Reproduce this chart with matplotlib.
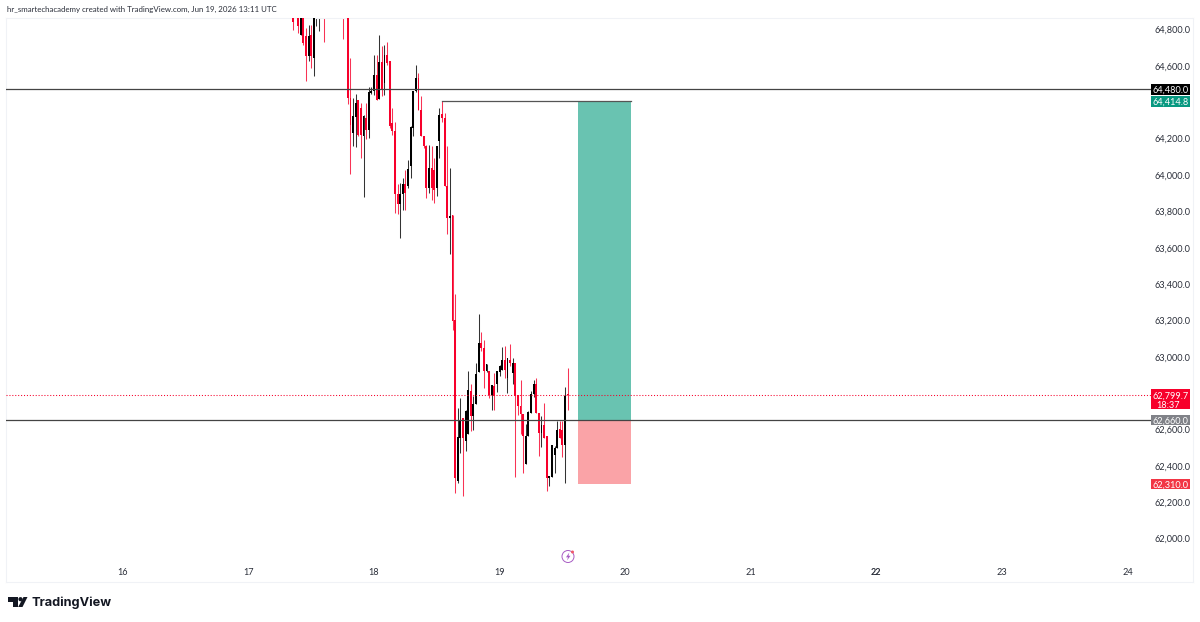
import numpy as np
import matplotlib
matplotlib.use('Agg')
import matplotlib.pyplot as plt
from matplotlib.patches import Rectangle, Circle, Polygon
from matplotlib.transforms import ScaledTranslation

# --- CONFIGURATION ---
OUTPUT_FILE = 'out.png'
UP_COLOR = '#000000'
DOWN_COLOR = '#f7002b'
TP_COLOR = '#69c3b1'
SL_COLOR = '#faa3a7'
TEXT_COLOR = '#2a2e39'
FONT = 'Lato'

# --- 30 MIN CANDLES, FIRST BAR AT DAY 17 08:30 ---
first_bar_day = 17 + 17 / 48
bar_days = 1 / 48

opens = [64920, 65000, 64900, 64782, 64900, 64772, 64662, 64782, 64653, 64920, 64900, 64980, 65000,
         65020, 65000, 65040, 65010, 65030, 64990, 65000, 65040, 65050, 64433, 64241, 64329, 64424,
         64378, 64222, 64323, 64259, 64461, 64474, 64558, 64428, 64630, 64516, 64672, 64639, 64296,
         64254, 63905, 63847, 63902, 63960, 63948, 64057, 64268, 64474, 64543, 64369, 64222, 64167,
         63938, 64045, 64039, 63938, 64195, 64345, 64323, 63947, 63773, 63788, 63214, 62325, 62563,
         62673, 62545, 62582, 62820, 62683, 62747, 62926, 63086, 63058, 62930, 62930, 62798, 62848,
         62860, 62926, 62935, 62989, 62893, 62994, 62921, 62976, 62798, 62738, 62692, 62417, 62572,
         62701, 62802, 62860, 62701, 62591, 62633, 62572, 62343, 62349, 62468, 62508, 62613, 62609,
         62521, 62802]
highs = [64950, 65050, 64950, 64950, 64950, 64818, 64837, 64837, 64950, 65000, 65000, 65050, 65050,
         65080, 65060, 65100, 65070, 65090, 65040, 65050, 65100, 65100, 64653, 64433, 64455, 64424,
         64406, 64342, 64406, 64492, 64492, 64672, 64668, 64778, 64717, 64727, 64741, 64639, 64378,
         64300, 63957, 63966, 63993, 64039, 64094, 64277, 64474, 64617, 64571, 64446, 64222, 64172,
         64177, 64167, 64103, 64167, 64378, 64414, 64351, 64167, 64045, 63788, 63352, 62728, 62783,
         62673, 62714, 62930, 62860, 62792, 62976, 63245, 63146, 63104, 62967, 62930, 62853, 62921,
         62930, 62966, 63062, 63067, 63003, 63082, 63000, 62976, 62798, 62884, 62695, 62637, 62710,
         62820, 62879, 62890, 62701, 62686, 62756, 62572, 62353, 62523, 62518, 62655, 62655, 62655,
         62842, 62948]
lows = [64809, 64900, 64791, 64780, 64727, 64529, 64635, 64598, 64552, 64827, 64800, 64900, 64741,
        64900, 64920, 64980, 64950, 64960, 64900, 64760, 64900, 64400, 64012, 64167, 64162, 64222,
        64103, 63887, 64210, 64213, 64455, 64452, 64424, 64428, 64442, 64452, 64617, 64268, 64232,
        63801, 63795, 63663, 63819, 63814, 63938, 63993, 64222, 64466, 64369, 64222, 64160, 63883,
        63911, 63874, 63856, 63892, 64103, 64300, 63947, 63682, 63572, 63159, 62261, 62316, 62481,
        62243, 62490, 62582, 62600, 62609, 62747, 62926, 63040, 62835, 62925, 62780, 62714, 62714,
        62816, 62902, 62935, 62893, 62811, 62960, 62860, 62349, 62690, 62582, 62371, 62417, 62572,
        62701, 62790, 62701, 62462, 62514, 62560, 62270, 62298, 62349, 62371, 62508, 62563, 62457,
        62316, 62719]
closes = [64850, 64950, 64830, 64900, 64736, 64662, 64772, 64662, 64900, 64960, 64960, 65020, 64920,
          65000, 65040, 65010, 65030, 64990, 65020, 64900, 65000, 64433, 64283, 64332, 64406, 64232,
          64228, 64332, 64259, 64466, 64474, 64558, 64424, 64630, 64479, 64672, 64626, 64277, 64250,
          63905, 63847, 63905, 63960, 63911, 64043, 64272, 64470, 64543, 64369, 64222, 64167, 63938,
          64045, 63938, 63929, 64167, 64342, 64323, 63947, 63773, 63783, 63205, 62343, 62567, 62659,
          62563, 62710, 62824, 62683, 62750, 62915, 63086, 63058, 62930, 62967, 62798, 62853, 62793,
          62930, 62957, 62989, 62939, 63003, 62976, 62976, 62793, 62738, 62692, 62572, 62572, 62706,
          62802, 62860, 62701, 62591, 62633, 62560, 62343, 62353, 62523, 62505, 62609, 62563, 62521,
          62796, 62799.7]

# --- PRICE LEVELS ---
upper_level = 64480.0
entry_level = 62660.0
target_level = 64414.8
stop_level = 62310.0
last_price = 62799.7
countdown = '18:37'
trade_line_start = 18 + 26 / 48
box_start = 19.624
box_end = 20.046

price_ticks = [62000, 62200, 62400, 62600, 63000, 63200, 63400, 63600, 63800,
               64000, 64200, 64600, 64800]
day_ticks = [16, 17, 18, 19, 20, 21, 22, 23, 24]


def draw_candles(ax):
    o, h, l, c = map(np.array, (opens, highs, lows, closes))
    x = first_bar_day + np.arange(len(o)) * bar_days
    colors = [UP_COLOR if up else DOWN_COLOR for up in c >= o]
    ax.vlines(x, l, h, colors=colors, linewidth=0.75, alpha=0.8, zorder=2)
    ax.bar(x, np.maximum(np.abs(c - o), 4), bottom=np.minimum(o, c), width=bar_days * 0.72,
           color=colors, linewidth=0, zorder=3)


def price_badge(ax, price, text, color, px_height=10.5):
    # badge sits on the price scale, x in axes fraction and y in price
    trans = ax.get_yaxis_transform()
    height = px_height * 5.5
    ax.add_patch(Rectangle((0.9646, price - height / 2), 0.0329, height, transform=trans,
                           facecolor=color, edgecolor='none', zorder=6, clip_on=False))
    ax.text(0.9812, price, text, transform=trans, ha='center', va='center_baseline',
            color='white', fontsize=6.6, family=FONT, zorder=7)


def draw_overlay(fig):
    # everything outside the price pane is laid out in pixels
    over = fig.add_axes([0, 0, 1, 1], facecolor='none')
    over.set_xlim(0, 1200)
    over.set_ylim(622, 0)
    over.axis('off')

    over.text(7, 9, 'hr_smartechacademy created with TradingView.com, Jun 19, 2026 13:11 UTC',
              ha='left', va='center', fontsize=5.68, color=TEXT_COLOR, family=FONT)

    # logo
    over.add_patch(Polygon([(8, 597), (17.5, 597), (17.5, 607), (13, 607), (13, 601.5), (8, 601.5)],
                           facecolor='#131722', edgecolor='none'))
    over.add_patch(Circle((20.5, 599.2), 2.1, facecolor='#131722', edgecolor='none'))
    over.add_patch(Polygon([(23.5, 597), (27.5, 597), (22.5, 607), (18.2, 607)],
                           facecolor='#131722', edgecolor='none'))
    over.text(32, 602.5, 'TradingView', ha='left', va='center', fontsize=9.2,
              color='#131722', family='Inter', fontweight='bold')

    # flash event marker under the bars
    over.add_patch(Circle((568, 556.5), 6, facecolor='white', edgecolor='#a85cc4', linewidth=0.7))
    over.add_patch(Polygon([(569.3, 552.5), (566, 557.3), (568, 557.3), (567, 560.5), (570.5, 555.8), (568.5, 555.8)],
                           facecolor='#a85cc4', edgecolor='none'))
    over.add_patch(Circle((572.5, 552), 1.5, facecolor='#ef5a6a', edgecolor='none'))


def main():
    fig = plt.figure(figsize=(12, 6.22), dpi=100, facecolor='white')
    ax = fig.add_axes([6 / 1200, 1 - 582 / 622, 1187 / 1200, 564 / 622])
    ax.set_xlim(15.07, 15.07 + 1187 / 125.6)
    ax.set_ylim(61770, 64873)

    for spine in ax.spines.values():
        spine.set_color('#f0f2f6')
        spine.set_linewidth(0.8)

    ax.set_xticks(day_ticks)
    ax.set_yticks(price_ticks)
    ax.set_yticklabels([f'{p:,.1f}' for p in price_ticks])
    ax.yaxis.tick_right()
    ax.tick_params(axis='y', length=0, pad=-28, labelsize=6.6, labelcolor=TEXT_COLOR)
    ax.tick_params(axis='x', length=0, pad=-10, labelsize=6.6, labelcolor=TEXT_COLOR)
    for label in ax.get_xticklabels():
        label.set_family(FONT)
    # price labels sit a touch above their level
    nudge = ScaledTranslation(0, 1.2 / 72, fig.dpi_scale_trans)
    for label in ax.get_yticklabels():
        label.set_family(FONT)
        label.set_transform(label.get_transform() + nudge)
    ax.get_xticklabels()[day_ticks.index(22)].set_fontweight('bold')

    # trade box
    ax.add_patch(Rectangle((box_start, entry_level), box_end - box_start, target_level - entry_level,
                           facecolor=TP_COLOR, edgecolor='none', zorder=1))
    ax.add_patch(Rectangle((box_start, stop_level), box_end - box_start, entry_level - stop_level,
                           facecolor=SL_COLOR, edgecolor='none', zorder=1))
    ax.plot([trade_line_start, box_end], [target_level, target_level], color='#555555', linewidth=0.9, zorder=4)

    draw_candles(ax)

    # horizontal levels stop at the price scale
    line_end = 0.9646
    ax.axhline(upper_level, xmax=line_end, color='#444444', linewidth=0.9, zorder=5)
    ax.axhline(entry_level, xmax=line_end, color='#444444', linewidth=0.9, zorder=5)
    ax.axhline(last_price, xmax=line_end, color=DOWN_COLOR, linewidth=0.75, linestyle=(0, (1, 1.8)),
               zorder=4)

    price_badge(ax, upper_level, f'{upper_level:,.1f}', '#000000')
    price_badge(ax, target_level, f'{target_level:,.1f}', '#089981')
    price_badge(ax, entry_level, f'{entry_level:,.1f}', '#808288')
    price_badge(ax, stop_level, f'{stop_level:,.1f}', '#f23645')

    # last price badge carries the bar countdown underneath
    trans = ax.get_yaxis_transform()
    ax.add_patch(Rectangle((0.9646, last_price - 80), 0.0329, 110, transform=trans,
                           facecolor=DOWN_COLOR, edgecolor='none', zorder=6))
    ax.text(0.9812, last_price, f'{last_price:,.1f}', transform=trans, ha='center', va='center_baseline',
            color='white', fontsize=6.6, family=FONT, zorder=7)
    ax.text(0.9689, last_price - 52, countdown, transform=trans, ha='left', va='center_baseline',
            color='white', fontsize=6.6, family=FONT, zorder=7)

    draw_overlay(fig)
    fig.savefig(OUTPUT_FILE, dpi=100)


if __name__ == '__main__':
    main()
